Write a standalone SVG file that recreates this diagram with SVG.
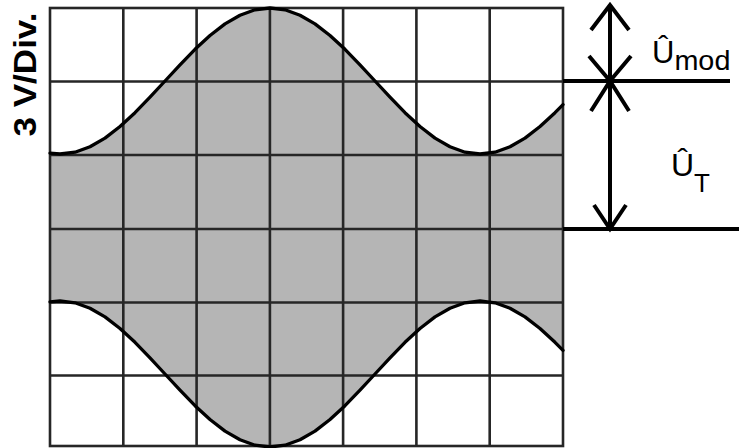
<svg xmlns="http://www.w3.org/2000/svg" width="739" height="448" viewBox="0 0 739 448">
<style>
.grid{stroke:#262626;stroke-width:2.6;fill:none}
.curve{stroke:#000;stroke-width:3.3;fill:none;stroke-linejoin:round;stroke-linecap:round}
.arr{stroke:#000;stroke-width:4;fill:none;stroke-linecap:butt}
.lbl{font-family:"Liberation Sans",Arial,sans-serif;fill:#000}
</style>
<rect width="739" height="448" fill="#fff"/>
<g id="screen">
<polygon fill="#b5b5b5" points="50,153.2 60,154 75,152.2 90,146.8 105,138.1 120,126.5 135,112.7 150,97.2 165,81 180,64.8 195,49.3 210,35.5 225,23.9 240,15.2 255,9.8 270,8 285,9.8 300,15.2 315,23.9 330,35.5 345,49.3 360,64.8 375,81 390,97.2 405,112.7 420,126.5 435,138.1 450,146.8 465,152.2 480,154 495,152.2 510,146.8 525,138.1 540,126.5 555,112.7 563,104.6 563,350.4 555,342.3 540,328.5 525,316.9 510,308.2 495,302.8 480,301 465,302.8 450,308.2 435,316.9 420,328.5 405,342.3 390,357.8 375,374 360,390.2 345,405.7 330,419.5 315,431.1 300,439.8 285,445.2 270,447 255,445.2 240,439.8 225,431.1 210,419.5 195,405.7 180,390.2 165,374 150,357.8 135,342.3 120,328.5 105,316.9 90,308.2 75,302.8 60,301 50,301.8"/>
<g class="grid">
<rect x="50" y="8" width="513" height="438"/>
<path d="M123.3,8V446M196.6,8V446M269.9,8V446M343.1,8V446M416.4,8V446M489.7,8V446M50,81.5H563M50,155H563M50,229H563M50,302.5H563M50,375.5H563"/>
</g>
<polyline class="curve" points="50,153.2 60,154 75,152.2 90,146.8 105,138.1 120,126.5 135,112.7 150,97.2 165,81 180,64.8 195,49.3 210,35.5 225,23.9 240,15.2 255,9.8 270,8 285,9.8 300,15.2 315,23.9 330,35.5 345,49.3 360,64.8 375,81 390,97.2 405,112.7 420,126.5 435,138.1 450,146.8 465,152.2 480,154 495,152.2 510,146.8 525,138.1 540,126.5 555,112.7 563,104.6"/>
<polyline class="curve" points="50,301.8 60,301 75,302.8 90,308.2 105,316.9 120,328.5 135,342.3 150,357.8 165,374 180,390.2 195,405.7 210,419.5 225,431.1 240,439.8 255,445.2 270,447 285,445.2 300,439.8 315,431.1 330,419.5 345,405.7 360,390.2 375,374 390,357.8 405,342.3 420,328.5 435,316.9 450,308.2 465,302.8 480,301 495,302.8 510,308.2 525,316.9 540,328.5 555,342.3 563,350.4"/>
</g>
<g id="connectors">
<path class="arr" d="M563,81H730M563,229H739M610,5V229"/>
<path class="arr" d="M591,30L610,5L629,30"/>
<path class="arr" d="M589,56L610,81L631,56"/>
<path class="arr" d="M591,111L610,81L629,111"/>
<path class="arr" d="M594,205L610,229L626,205"/>
</g>
<g id="label-scale">
<text class="lbl" transform="translate(36,74.5) rotate(-90)" text-anchor="middle" font-size="31" font-weight="bold" textLength="124" lengthAdjust="spacingAndGlyphs">3 V/Div.</text>
</g>
<g id="label-umod">
<text class="lbl" x="652" y="63" font-size="31">Û<tspan font-size="28" dy="7" textLength="56" lengthAdjust="spacingAndGlyphs">mod</tspan></text>
</g>
<g id="label-ut">
<text class="lbl" x="671" y="176" font-size="32">Û<tspan font-size="26" dy="16">T</tspan></text>
</g>
</svg>
